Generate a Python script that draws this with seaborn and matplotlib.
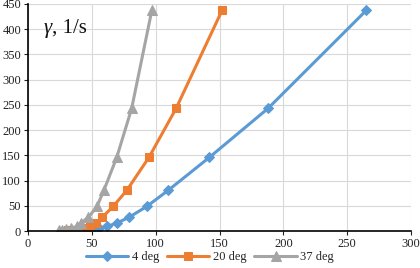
import matplotlib
matplotlib.use("Agg")
import matplotlib.pyplot as plt
import seaborn as sns
import pandas as pd

gamma = [437.4, 243, 145.8, 81, 48.6, 27, 16.2, 9, 5.4, 3, 1.8, 1.0]
x_4deg = [265, 188, 142, 110, 93, 79, 70, 62, 55.5, 50, 45, 41]
x_20deg = [152, 116, 94.7, 77.5, 66.7, 58, 53, 48.5, 44, 40, 35, 31]
x_37deg = [97, 81.2, 69.5, 59.5, 54, 47.3, 41.5, 38, 34, 30, 27, 24]
labels = ["4 deg", "20 deg", "37 deg"]
colors = ["#5B9BD5", "#ED7D31", "#A5A5A5"]
markers = ["D", "s", "^"]
msizes = [5, 6, 6.5]

rows = []
for lab, xs in zip(labels, [x_4deg, x_20deg, x_37deg]):
    for xv, yv in zip(xs, gamma):
        rows.append({"x": xv, "y": yv, "series": lab})
df = pd.DataFrame(rows)

sns.set_theme(style="white")
plt.rcParams["font.family"] = ["Liberation Serif", "DejaVu Serif"]

fig = plt.figure(figsize=(4.2, 2.68), dpi=100)
ax = fig.add_axes([28/420, 1 - 231/268, (411-28)/420, (231-4)/268])

for lab, c, m, ms in zip(labels, colors, markers, msizes):
    sub = df[df["series"] == lab]
    sns.lineplot(data=sub, x="x", y="y", ax=ax, color=c, marker=m, markersize=ms,
                 markeredgecolor=c, linewidth=2.2, sort=False, label=lab, estimator=None)

ax.set_xlim(0, 300)
ax.set_ylim(0, 450)
ax.set_xticks(range(0, 301, 50))
ax.set_yticks(range(0, 451, 50))
ax.grid(True, color="#D9D9D9", linewidth=0.8)
ax.set_axisbelow(True)
ax.set_xlabel("")
ax.set_ylabel("")
for s in ["top", "right"]:
    ax.spines[s].set_visible(False)
for s in ["left", "bottom"]:
    ax.spines[s].set_color("black")
    ax.spines[s].set_linewidth(1.2)
ax.tick_params(axis="both", labelsize=9, colors="#222222", length=3, width=0.8,
               direction="out", pad=2)
ax.tick_params(axis="x", bottom=True)
ax.tick_params(axis="y", left=True)

t1 = fig.text(44/420, 1 - 33/268, "\u03b3", fontsize=15, style="italic",
              color="#111111", ha="left", va="baseline")
fig.canvas.draw()
bb = t1.get_window_extent(renderer=fig.canvas.get_renderer())
fig.text(bb.x1 / fig.bbox.width, 1 - 33/268, ", 1/s", fontsize=15, color="#111111",
         ha="left", va="baseline")

leg = ax.legend(loc="upper center", bbox_to_anchor=(210/420, 1 - 251/268),
                bbox_transform=fig.transFigure, ncol=3,
                frameon=False, fontsize=9, handlelength=3.4, columnspacing=0.6,
                handletextpad=0.3, borderaxespad=0, borderpad=0)

fig.savefig("out.png", dpi=100)
